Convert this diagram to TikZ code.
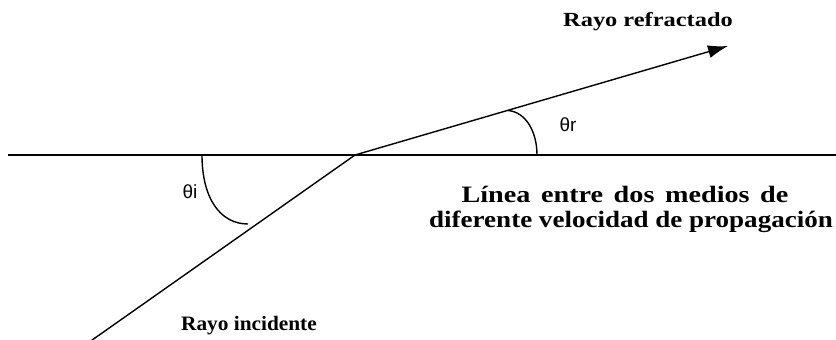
\documentclass[tikz,border=0pt]{standalone}
\usepackage{fontspec}
\setmainfont{Liberation Serif}
\newfontfamily\greekfont{Liberation Sans}
\newfontfamily\wideA[FakeStretch=1.22]{Liberation Serif}
\newfontfamily\wideB[FakeStretch=1.04]{Liberation Serif}
\newfontfamily\wideC[FakeStretch=1.15]{Liberation Serif}
\newfontfamily\wideD[FakeStretch=1.2,WordSpace=1.5]{Liberation Serif}
\usetikzlibrary{arrows.meta,calc}
\begin{document}
\begin{tikzpicture}[x=1pt,y=1pt,
  ray/.style={line width=1.4pt,line cap=round},
  boundary/.style={line width=2.2pt},
  anglearc/.style={line width=1.4pt},
  tiparrow/.style={-{Latex[length=20pt,width=13pt]}},
  lbl/.style={anchor=base,inner sep=0pt},
  glbl/.style={font=\greekfont\fontsize{19}{21}\selectfont}]
\useasboundingbox (0,0) rectangle (836,-340);
% points
\coordinate (L1) at (8,-155);
\coordinate (L2) at (836,-155);
\coordinate (O) at (355,-155);
\coordinate (A) at (95,-338);
\coordinate (R) at (728,-46);
% boundary line
\draw[boundary] (L1) -- (L2);
% incident ray
\draw[ray] (A) -- (O);
\draw[ray,tiparrow] (A) -- ($(O)!7!(A)$);
% refracted ray
\draw[ray,tiparrow] (O) -- (R);
% angle arcs
\coordinate (ai1) at (202,-155);
\coordinate (ai2) at (248,-224);
\draw[anglearc] (ai1) .. controls (202,-198) and (220,-224) .. (ai2);
\coordinate (ar1) at (508,-110.5);
\coordinate (ar2) at (537,-155);
\draw[anglearc] (ar1) .. controls (526,-112) and (537,-132) .. (ar2);
% labels
\node[glbl] (ti) at (190,-192) {θi};
\node[glbl] (tr) at (568,-125) {θr};
\node[lbl,font=\wideA\fontsize{20}{24}\selectfont\bfseries] (refr) at (648,-26) {Rayo refractado};
\node[lbl,font=\wideB\fontsize{20.5}{24}\selectfont\bfseries] (inc) at (249,-330) {Rayo incidente};
\node[lbl,font=\wideD\fontsize{23.5}{27}\selectfont\bfseries] (med1) at (625,-202) {Línea entre dos medios de};
\node[lbl,font=\wideC\fontsize{23.5}{27}\selectfont\bfseries] (med2) at (631,-227) {diferente velocidad de propagación};
\end{tikzpicture}
\end{document}
